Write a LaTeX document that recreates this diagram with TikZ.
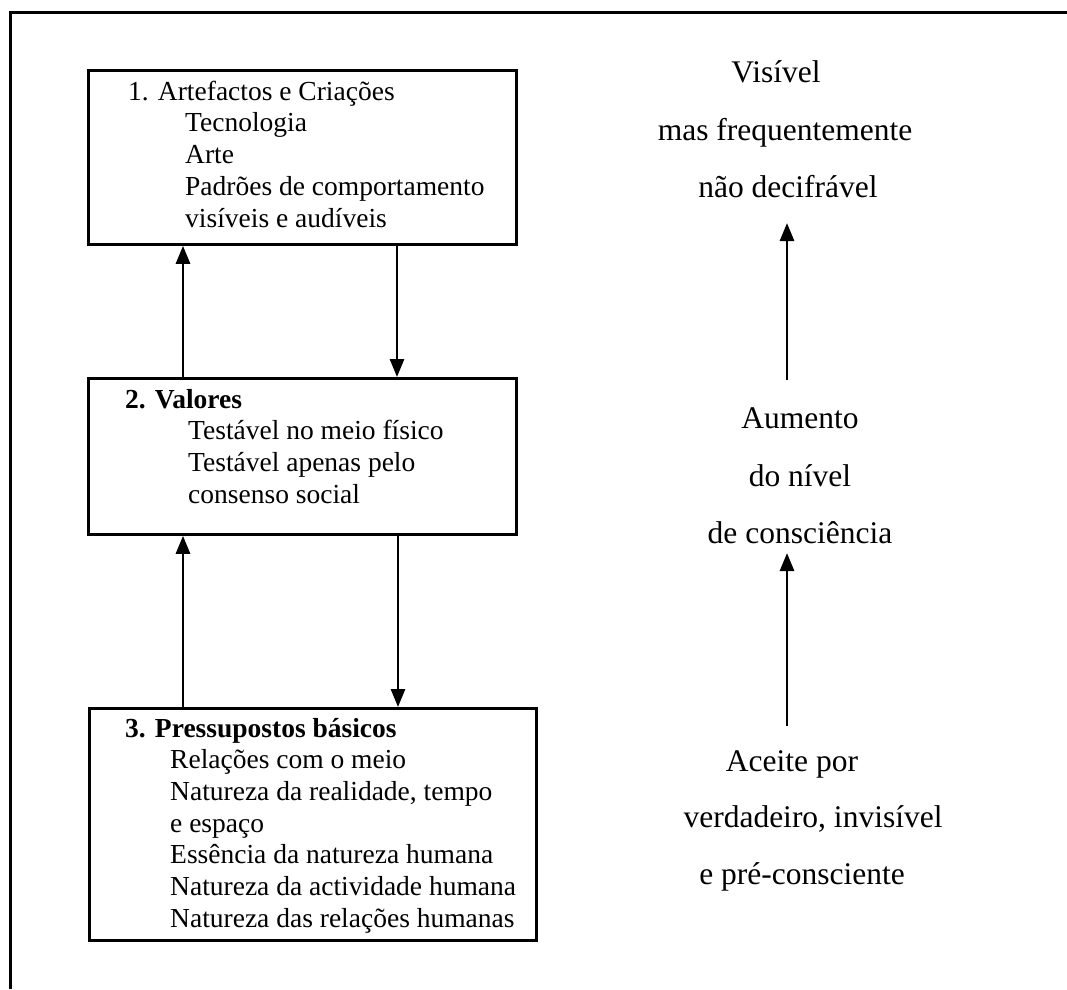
\documentclass[tikz,border=0pt]{standalone}
\usepackage{fontspec}
\setmainfont{Liberation Serif}
\usetikzlibrary{arrows.meta}
\begin{document}
\begin{tikzpicture}[x=1pt,y=-1pt,
 boxst/.style={draw, line width=2.8pt, anchor=north west, inner sep=0pt},
 bt/.style={anchor=base west, inner sep=0pt, font=\fontsize{27.5}{32}\selectfont},
 rt/.style={anchor=base, inner sep=0pt, font=\fontsize{31.5}{36}\selectfont},
 arr/.style={line width=2.8pt, -{Triangle[width=14pt,length=18pt]}}]
\useasboundingbox (0,0) rectangle (1067,989);
\draw[line width=3pt] (10,989) -- (10,12) -- (1067,12);
% boxes
\node[boxst, minimum width=428pt, minimum height=174pt] (b1) at (87,69) {};
\node[boxst, minimum width=428pt, minimum height=156pt] (b2) at (87,377) {};
\node[boxst, minimum width=447pt, minimum height=232pt] (b3) at (88,707) {};
% box 1 text
\node[bt] (t11) at (128,100) {1. Artefactos e Criações};
\node[bt] (t12) at (185,131) {Tecnologia};
\node[bt] (t13) at (185,163) {Arte};
\node[bt] (t14) at (185,195) {Padrões de comportamento};
\node[bt] (t15) at (185,227) {visíveis e audíveis};
% box 2 text
\node[bt, font=\fontsize{27.5}{32}\selectfont\bfseries] (t21) at (125,408) {2. Valores};
\node[bt] (t22) at (188,439) {Testável no meio físico};
\node[bt] (t23) at (188,471) {Testável apenas pelo};
\node[bt] (t24) at (188,503) {consenso social};
% box 3 text
\node[bt, font=\fontsize{27.5}{32}\selectfont\bfseries] (t31) at (125,737) {3. Pressupostos básicos};
\node[bt] (t32) at (170,768) {Relações com o meio};
\node[bt] (t33) at (170,800) {Natureza da realidade, tempo};
\node[bt] (t34) at (170,832) {e espaço};
\node[bt] (t35) at (170,863) {Essência da natureza humana};
\node[bt] (t36) at (170,895) {Natureza da actividade humana};
\node[bt] (t37) at (170,927) {Natureza das relações humanas};
% arrows between boxes
\draw[arr] ([xshift=96pt]b1.south west |- b2.north) -- ([xshift=96pt]b1.south west);
\draw[arr] ([xshift=310pt]b1.south west) -- ([xshift=310pt]b1.south west |- b2.north);
\draw[arr] ([xshift=96pt]b2.south west |- b3.north) -- ([xshift=96pt]b2.south west);
\draw[arr] ([xshift=311pt]b2.south west) -- ([xshift=311pt]b2.south west |- b3.north);
% right column
\node[rt] (r1) at (776,82) {Visível};
\node[rt] (r2) at (785,140) {mas frequentemente};
\node[rt] (r3) at (788,197) {não decifrável};
\node[rt] (r4) at (800,428) {Aumento};
\node[rt] (r5) at (800,486) {do nível};
\node[rt] (r6) at (800,543) {de consciência};
\node[rt] (r7) at (792,771) {Aceite por};
\node[rt] (r8) at (813,827) {verdadeiro, invisível};
\node[rt] (r9) at (802,884) {e pré-consciente};
\coordinate (a1s) at (787,380);
\coordinate (a1e) at (787,223);
\coordinate (a2s) at (787,726);
\coordinate (a2e) at (787,553);
\draw[arr] (a1s) -- (a1e);
\draw[arr] (a2s) -- (a2e);
\end{tikzpicture}
\end{document}
